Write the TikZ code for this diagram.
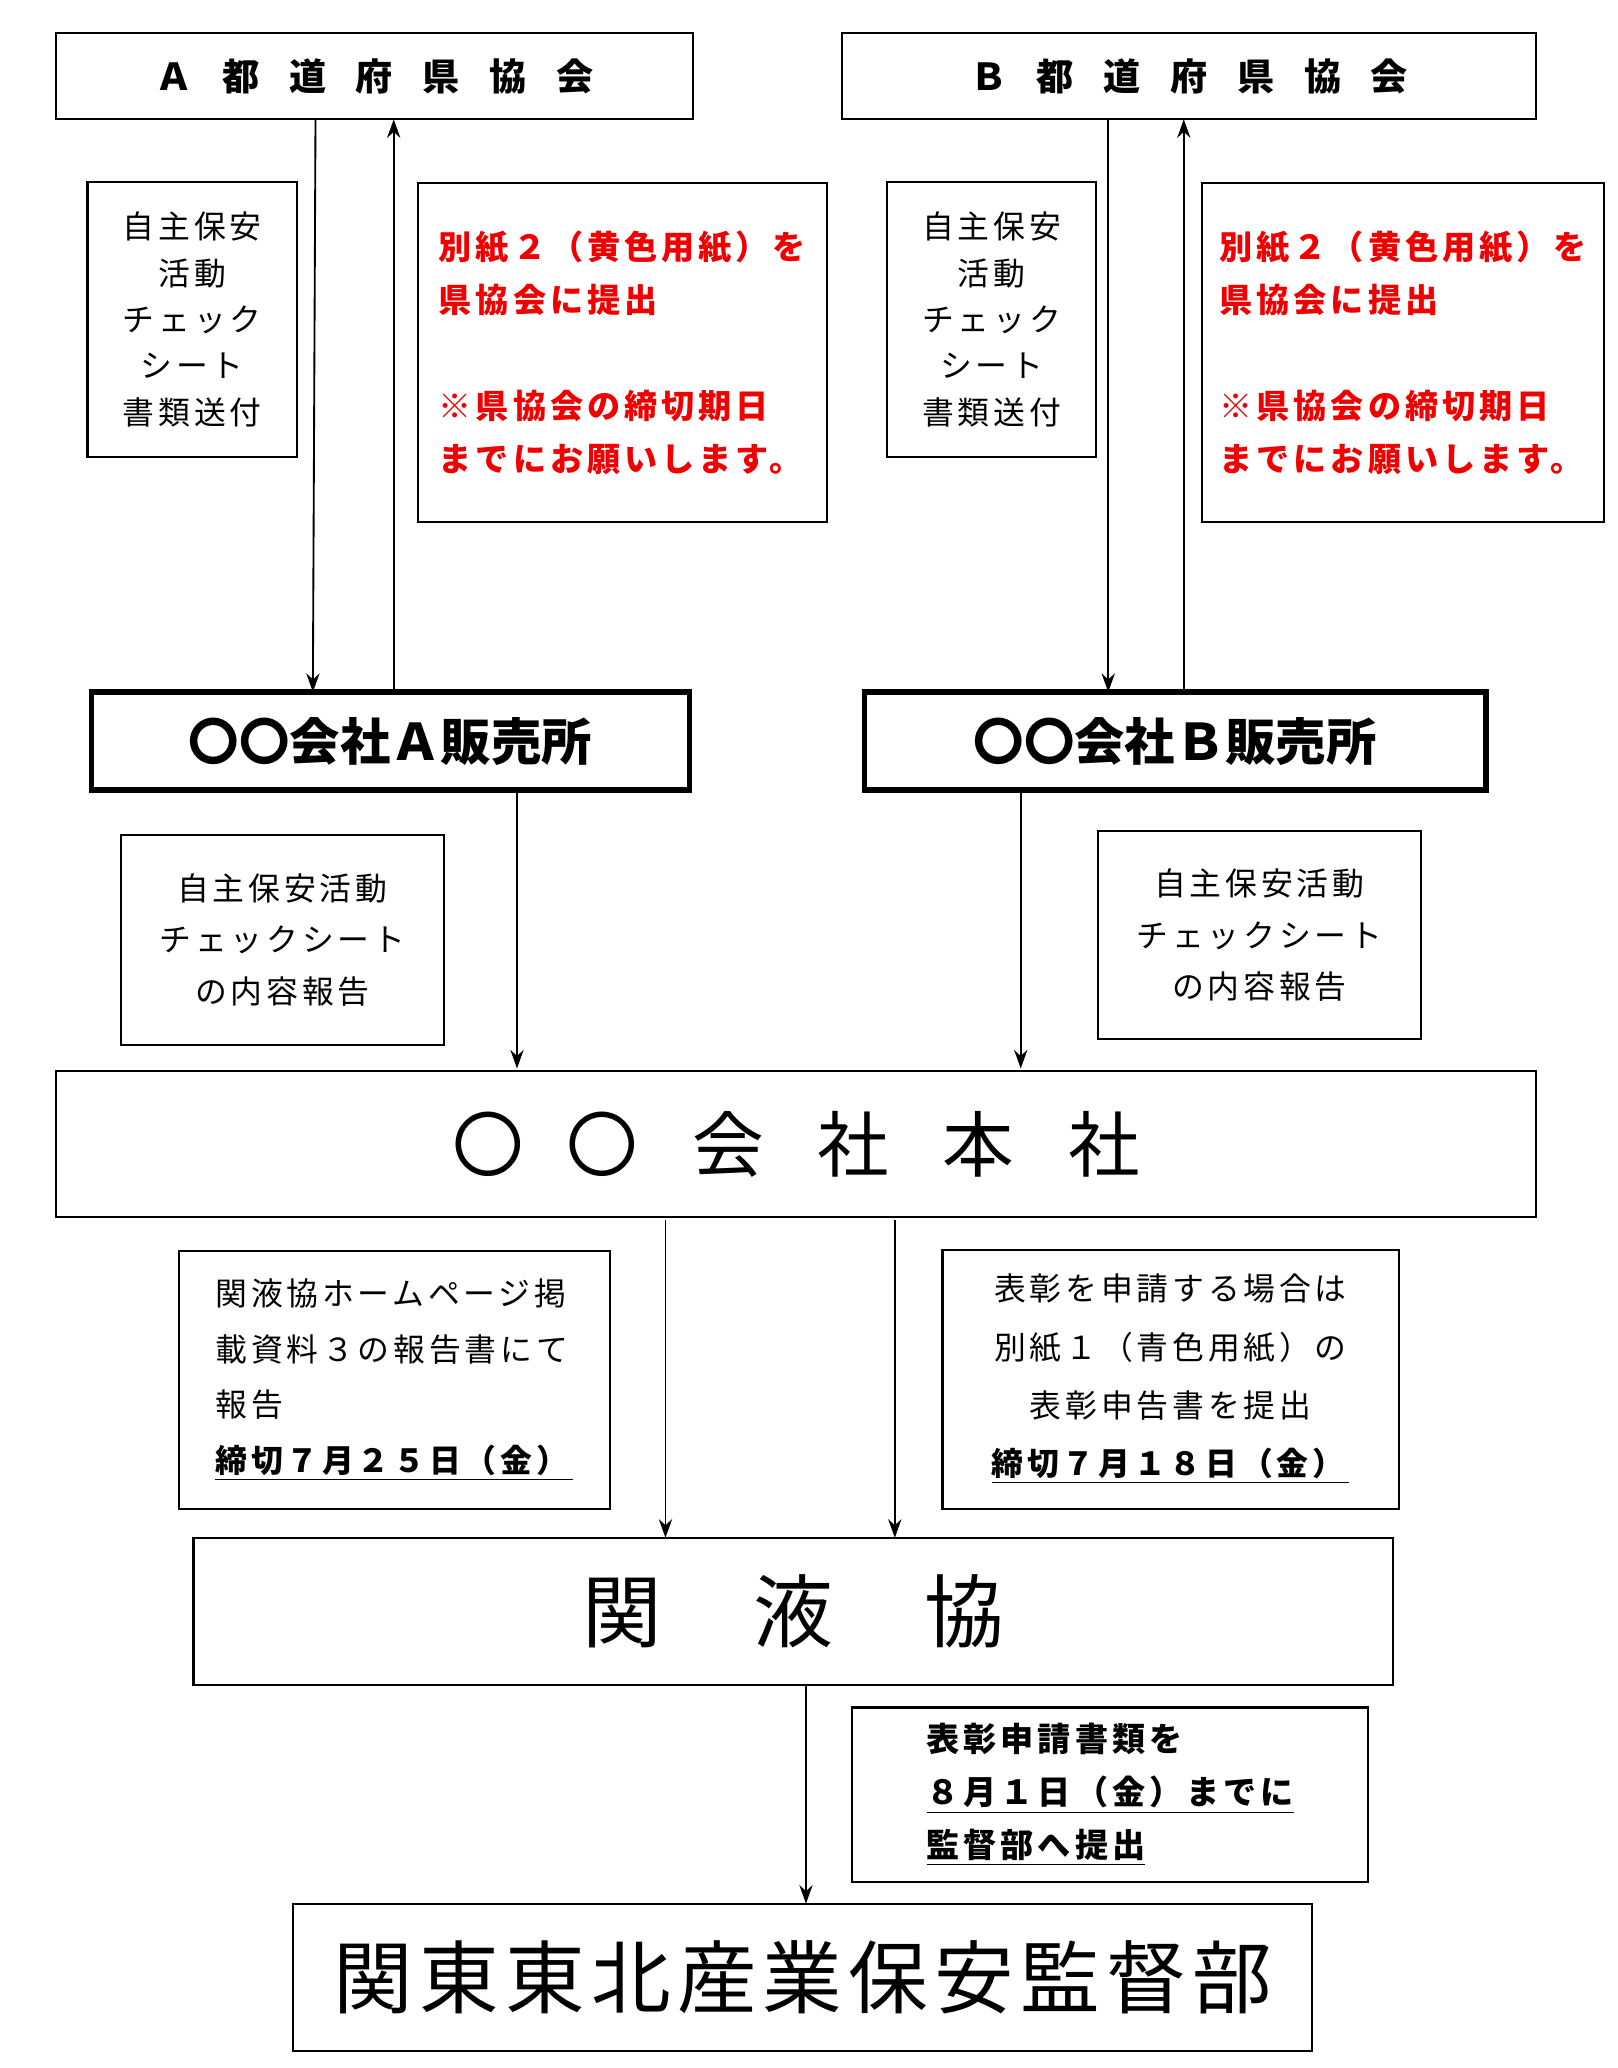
\documentclass[tikz,border=0pt]{standalone}
\usepackage{fontspec}
\setmainfont{Noto Sans CJK JP}
\newfontfamily\jps[LetterSpace=12]{Noto Sans CJK JP}
\usetikzlibrary{arrows.meta}
\definecolor{redtxt}{RGB}{240,0,0}
\tikzset{
  bx/.style={draw,line width=0.8pt,inner sep=0pt},
  thick box/.style={draw,line width=2pt,inner sep=0pt},
  arr/.style={-{Stealth[length=7pt,width=5pt]},line width=0.7pt},
}
\newcommand{\g}[1]{\hspace{#1em}}
% \bxn{style}{name}{x1}{y1}{x2}{y2}{text}
\newcommand{\bxn}[7]{%
  \pgfmathsetmacro{\cx}{(#3+#5)/2}\pgfmathsetmacro{\cy}{(#4+#6)/2}%
  \pgfmathsetmacro{\ww}{(#5-#3)*0.5}\pgfmathsetmacro{\hh}{(#6-#4)*0.5}%
  \node[#1,minimum width=\ww pt,minimum height=\hh pt] (#2) at (\cx,\cy) {#7};}
\begin{document}
\begin{tikzpicture}[x=0.5pt,y=-0.5pt]
\useasboundingbox (0,0) rectangle (1220,1560);
\bxn{bx,font=\fontsize{14}{16}\selectfont\bfseries}{ha}{42}{25}{523}{90}{Ａ\g{0.8}都\g{0.8}道\g{0.8}府\g{0.8}県\g{0.8}協\g{0.8}会}
\bxn{bx,font=\fontsize{14}{16}\selectfont\bfseries}{hb}{635}{25}{1159}{90}{Ｂ\g{0.8}都\g{0.8}道\g{0.8}府\g{0.8}県\g{0.8}協\g{0.8}会}
\bxn{bx,align=center,font=\jps\fontsize{12}{17.5}\selectfont}{sa}{66}{137}{224}{345}{自主保安\\活動\\チェック\\シート\\書類送付}
\bxn{bx,align=center,font=\jps\fontsize{12}{17.5}\selectfont}{sb}{669}{137}{827}{345}{自主保安\\活動\\チェック\\シート\\書類送付}
\bxn{bx,align=left,text=redtxt,font=\jps\fontsize{12.5}{20}\selectfont\bfseries}{ra}{315}{138}{624}{394}{別紙２（黄色用紙）を\\県協会に提出\\[20pt]※県協会の締切期日\\までにお願いします。}
\bxn{bx,align=left,text=redtxt,font=\jps\fontsize{12.5}{20}\selectfont\bfseries}{rb}{907}{138}{1210}{394}{別紙２（黄色用紙）を\\県協会に提出\\[20pt]※県協会の締切期日\\までにお願いします。}
\bxn{thick box,font=\fontsize{19}{21}\selectfont\bfseries}{pa}{69}{522}{520}{596}{〇〇会社Ａ販売所}
\bxn{thick box,font=\fontsize{19}{21}\selectfont\bfseries}{pb}{652}{522}{1121}{596}{〇〇会社Ｂ販売所}
\bxn{bx,align=center,font=\jps\fontsize{12}{19.5}\selectfont}{qa}{91}{630}{335}{788}{自主保安活動\\チェックシート\\の内容報告}
\bxn{bx,align=center,font=\jps\fontsize{12}{19.5}\selectfont}{qb}{828}{627}{1072}{784}{自主保安活動\\チェックシート\\の内容報告}
\bxn{bx,font=\fontsize{27}{30}\selectfont}{hq}{42}{808}{1159}{918}{〇\g{0.6}〇\g{0.75}会\g{0.75}社\g{0.75}本\g{0.75}社}
\bxn{bx,align=left,font=\jps\fontsize{12}{21}\selectfont}{ma}{135}{944}{460}{1138}{関液協ホームページ掲\\載資料３の報告書にて\\報告\\\underline{\bfseries 締切７月２５日（金）\,}}
\bxn{bx,align=center,font=\jps\fontsize{12}{22}\selectfont}{mb}{711}{943}{1055}{1138}{表彰を申請する場合は\\別紙１（青色用紙）の\\表彰申告書を提出\\\underline{\bfseries 締切７月１８日（金）\,}}
\bxn{bx,font=\fontsize{30}{33}\selectfont}{kk}{146}{1160}{1051}{1271}{関\g{1.15}液\g{1.15}協}
\bxn{bx,align=left,font=\jps\fontsize{12.5}{20}\selectfont\bfseries}{nb}{643}{1288}{1032}{1420}{表彰申請書類を\\\underline{８月１日（金）までに}\\\underline{監督部へ提出}}
\bxn{bx,font=\fontsize{30}{33}\selectfont}{fin}{221}{1436}{990}{1547}{関\g{0.08}東\g{0.08}東\g{0.08}北\g{0.08}産\g{0.08}業\g{0.08}保\g{0.08}安\g{0.08}監\g{0.08}督\g{0.08}部}
% arrows
\draw[arr] (238,90) coordinate (a1) -- (236,522) coordinate (a2);
\draw[arr] (297,522) coordinate (a3) -- (297,90) coordinate (a4);
\draw[arr] (836,90) coordinate (b1) -- (836,522) coordinate (b2);
\draw[arr] (893,522) coordinate (b3) -- (893,90) coordinate (b4);
\draw[arr] (390,598) coordinate (c1) -- (390,806) coordinate (c2);
\draw[arr] (770,598) coordinate (c3) -- (770,806) coordinate (c4);
\draw[arr] (502,920) coordinate (d1) -- (502,1160) coordinate (d2);
\draw[arr] (675,920) coordinate (d3) -- (675,1160) coordinate (d4);
\draw[arr] (608,1271) coordinate (e1) -- (608,1436) coordinate (e2);
\end{tikzpicture}
\end{document}
